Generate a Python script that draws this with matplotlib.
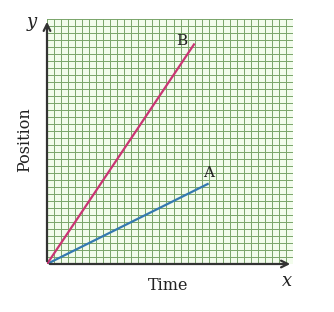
import numpy as np
import matplotlib.pyplot as plt

# data (grid units)
grid_cells = 35
line_names = ["A", "B"]
line_x = [[0, 23], [0, 21]]
line_y = [[0, 11.5], [0, 31.5]]
line_colors = ["#3479b0", "#c93573"]
label_offsets = [(0.0, 0.5), (-1.8, -0.6)]

fig = plt.figure(figsize=(3.34, 3.12), dpi=100)
ax = fig.add_axes([47 / 334, 48 / 312, 246 / 334, 245 / 312])
ax.set_xlim(0, grid_cells)
ax.set_ylim(0, grid_cells)
ax.set_facecolor("#f2fcec")

ax.set_xticks(np.arange(0, grid_cells + 1))
ax.set_yticks(np.arange(0, grid_cells + 1))
ax.grid(True, color="#7aa56a", linewidth=0.7)
ax.tick_params(length=0, labelbottom=False, labelleft=False)
for s in ax.spines.values():
    s.set_visible(False)

for name, xs, ys, c, off in zip(line_names, line_x, line_y, line_colors, label_offsets):
    ax.plot(xs, ys, color=c, linewidth=1.6, solid_capstyle="butt", zorder=3)
    ax.text(xs[1] + off[0], ys[1] + off[1], name, ha="center", va="bottom",
            fontsize=11, family="DejaVu Serif", color="#222222")

# axes with arrowheads
arrow = dict(arrowstyle="->", color="#333333", lw=1.6, mutation_scale=12)
ax.annotate("", xy=(1.0, 0), xytext=(0, 0), xycoords="axes fraction",
            textcoords="axes fraction", arrowprops=arrow, annotation_clip=False)
ax.annotate("", xy=(0, 1.0), xytext=(0, 0), xycoords="axes fraction",
            textcoords="axes fraction", arrowprops=arrow, annotation_clip=False)

fig.text(32 / 334, 1 - 22 / 312, "y", fontsize=13, style="italic",
         family="DejaVu Serif", ha="center", va="center", color="#222222")
fig.text(287 / 334, 1 - 281 / 312, "x", fontsize=13, style="italic",
         family="DejaVu Serif", ha="center", va="center", color="#222222")
fig.text(25 / 334, 1 - 140 / 312, "Position", fontsize=11.5, rotation=90,
         family="DejaVu Serif", ha="center", va="center", color="#222222")
fig.text(168 / 334, 1 - 286 / 312, "Time", fontsize=11.5,
         family="DejaVu Serif", ha="center", va="center", color="#222222")

fig.savefig("out.png", dpi=100, facecolor="white")
